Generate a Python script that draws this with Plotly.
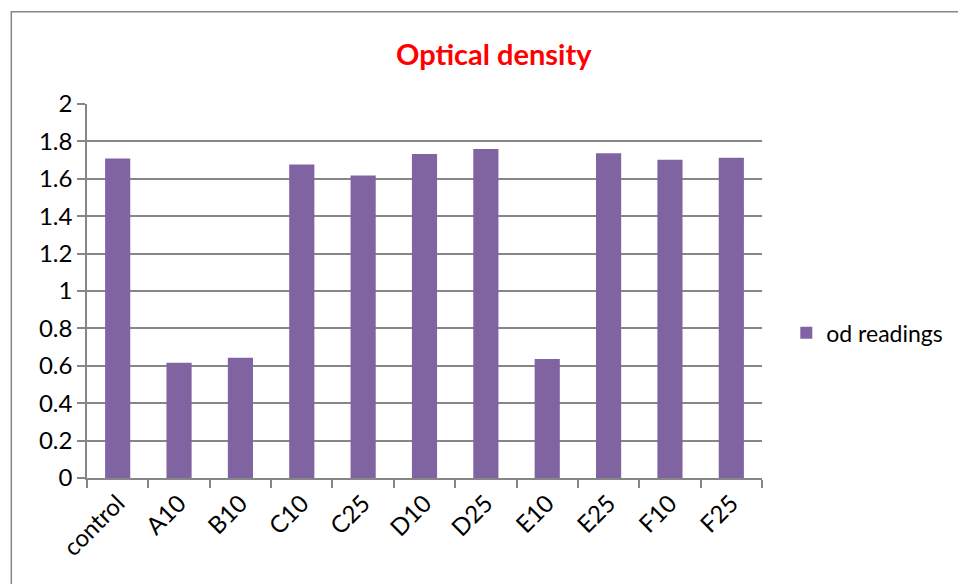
import plotly.graph_objects as go

categories = ["control", "A10", "B10", "C10", "C25", "D10", "D25", "E10", "E25", "F10", "F25"]
od_readings = [1.708, 0.616, 0.643, 1.677, 1.617, 1.732, 1.759, 0.637, 1.736, 1.702, 1.713]
y_ticks = [0, 0.2, 0.4, 0.6, 0.8, 1, 1.2, 1.4, 1.6, 1.8, 2]
y_tick_text = ["0", "0.2", "0.4", "0.6", "0.8", "1", "1.2", "1.4", "1.6", "1.8", "2"]

OFF = 8  # page body margin
W, H = 966 - OFF, 584 - OFF
PL, PR, PT, PB = 86.7, 761.7, 103.5, 478.5  # plot area in page pixels
L, T = PL - OFF, PT - OFF
R, B = W - (PR - OFF), H - (PB - OFF)
pw, ph = PR - PL, PB - PT

def px_x(px):
    return (px - PL) / pw

def px_y(py):
    return (PB - py) / ph

font = "Lato, 'Open Sans', sans-serif"
grey = "#868686"

fig = go.Figure()
fig.add_trace(go.Bar(
    x=categories, y=od_readings, name="od readings",
    marker=dict(color="#8064A2", line=dict(width=0)),
    showlegend=True,
))

fig.update_layout(
    width=W, height=H,
    margin=dict(l=L, r=R, t=T, b=B, autoexpand=False),
    paper_bgcolor="white", plot_bgcolor="white",
    bargap=0.59,
    font=dict(family=font, size=24, color="black"),
    showlegend=True,
    legend=dict(x=px_x(786), y=px_y(333), xanchor="left", yanchor="middle",
                font=dict(size=23, family=font), bgcolor="rgba(0,0,0,0)",
                itemwidth=30),
    xaxis=dict(
        type="category", tickangle=-45, showgrid=False,
        showline=True, linecolor=grey, linewidth=1.5,
        ticks="outside", ticklen=8, tickcolor=grey, tickwidth=1.5,
        tickson="boundaries", tickfont=dict(size=24, family=font),
    ),
    yaxis=dict(
        range=[0, 2], tickvals=y_ticks, ticktext=y_tick_text,
        showgrid=True, gridcolor=grey, gridwidth=1.5,
        showline=True, linecolor=grey, linewidth=1.5,
        ticks="outside", ticklen=8, tickcolor=grey, tickwidth=1.5,
        tickfont=dict(size=24, family=font), zeroline=False,
    ),
    annotations=[dict(
        text="<b>Optical density</b>", x=px_x(494), y=px_y(53),
        xref="paper", yref="paper", xanchor="center", yanchor="middle",
        showarrow=False, font=dict(size=29, color="#FF0000", family=font),
    )],
    shapes=[dict(
        type="rect", xref="paper", yref="paper",
        x0=px_x(11), x1=px_x(990), y0=px_y(610), y1=px_y(11),
        line=dict(color=grey, width=1.5), fillcolor="rgba(0,0,0,0)", layer="below",
    )],
)

fig.write_html("out.html")
